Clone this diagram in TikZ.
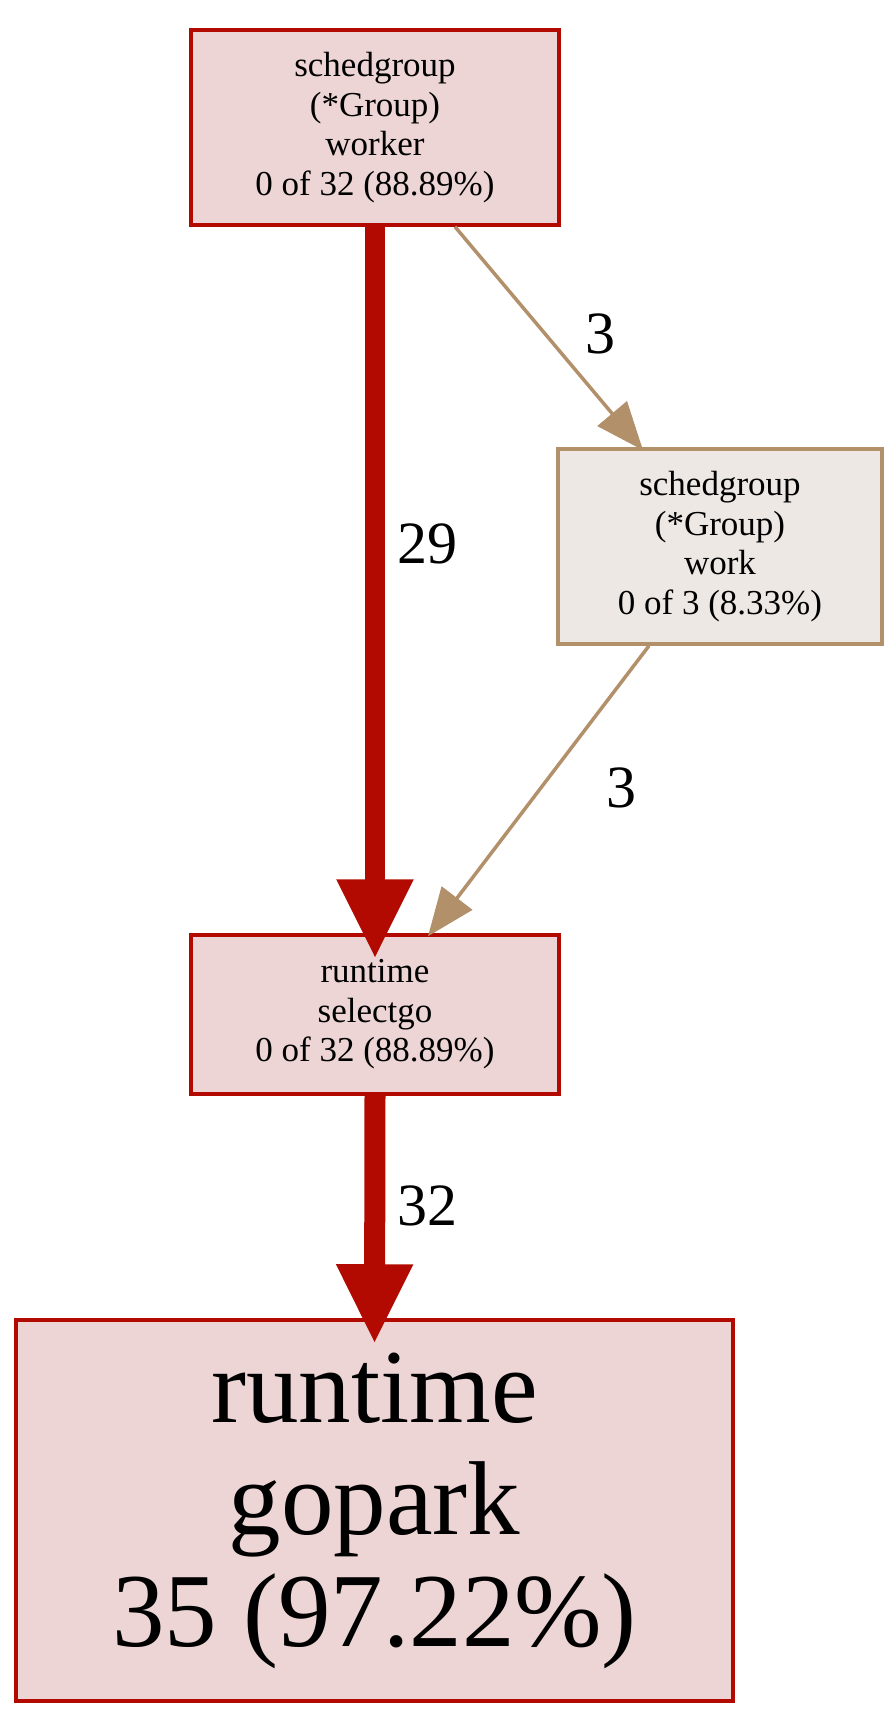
\documentclass[tikz,border=0pt]{standalone}
\usepackage{fontspec}
\setmainfont{Liberation Serif}
\usepackage{tikz}
\usetikzlibrary{arrows.meta,positioning}
\definecolor{hotred}{HTML}{B20A00}
\definecolor{hotfill}{HTML}{EDD5D5}
\definecolor{coolbrown}{HTML}{B2906A}
\definecolor{coolfill}{HTML}{EDE8E3}

\begin{document}
\begin{tikzpicture}[x=1pt,y=-1pt,
    fnbox/.style={draw=hotred,fill=hotfill,line width=3.5pt,inner sep=0pt,align=center,
      font=\fontsize{35}{39.4}\selectfont},
    coolbox/.style={fnbox,draw=coolbrown,fill=coolfill},
    hotedge/.style={draw=hotred,-{Triangle[length=80pt,width=71pt]}},
    cooledge/.style={draw=coolbrown,line width=3.5pt,-{Triangle[length=48pt,width=38pt]}},
    weight/.style={font=\fontsize{60}{64}\selectfont,inner sep=0pt}]
                     \useasboundingbox (0,0) rectangle (895,1715);
                     \node[fnbox,minimum width=368pt,minimum height=195pt] (worker) at (375,127.5)
                       {schedgroup\\(*Group)\\worker\\0 of 32 (88.89\%)};
                     \node[coolbox,minimum width=324pt,minimum height=195pt] (work) at (720,546.5)
                       {schedgroup\\(*Group)\\work\\0 of 3 (8.33\%)};
                     \node[fnbox,minimum width=368pt,minimum height=159pt] (selectgo) at (375,1014.5)
                       {runtime\\selectgo\\0 of 32 (88.89\%)};
                     \node[fnbox,minimum width=717pt,minimum height=381pt,
                       font=\fontsize{105}{112}\selectfont] (gopark) at (374.5,1510.5)
                       {runtime\\gopark\\35 (97.22\%)};
                     \coordinate (tipsel) at ([yshift=-26pt]selectgo.north);
                     \coordinate (tippark) at ([yshift=-26pt]gopark.north);
                      \draw[hotedge,line width=20pt] (worker.south)--(tipsel);
                      \draw[hotedge,line width=21pt] (selectgo.south)--(tippark);
                      \draw[cooledge] ([xshift=80pt]worker.south)--([xshift=-77pt,yshift=-3pt]work.north);
                      \draw[cooledge] ([xshift=-71pt]work.south)--([xshift=53pt,yshift=-3pt]selectgo.north);
                     \node[weight] (w29) at (427,544) {29};
                     \node[weight] (w3a) at (600,334) {3};
                     \node[weight] (w3b) at (621,788) {3};
                     \node[weight] (w32) at (427,1206) {32};
                  \end{tikzpicture}
\end{document}
